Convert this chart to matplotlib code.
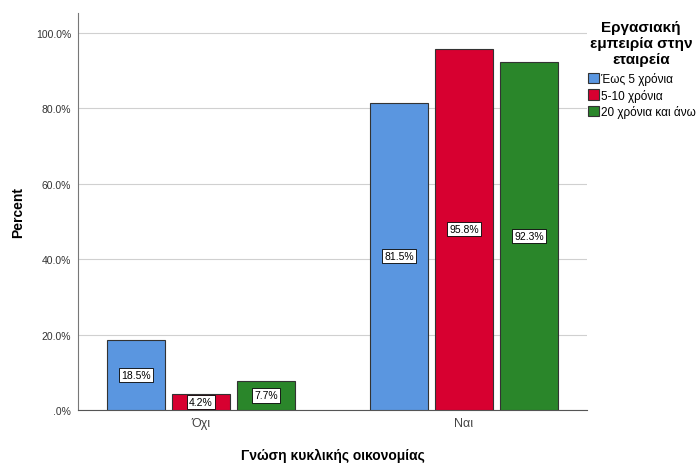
import matplotlib
matplotlib.use("Agg")
import matplotlib.pyplot as plt
import numpy as np

plt.rcParams['font.family'] = ['Liberation Sans', 'DejaVu Sans']

categories = ["Όχι", "Ναι"]
series_names = ["Έως 5 χρόνια", "5-10 χρόνια", "20 χρόνια και άνω"]
values = {
    "Έως 5 χρόνια": [18.5, 81.5],
    "5-10 χρόνια": [4.2, 95.8],
    "20 χρόνια και άνω": [7.7, 92.3],
}
colors = ["#5a96e0", "#d70030", "#2a862a"]
yticks = [0, 20, 40, 60, 80, 100]
ytick_labels = [".0%", "20.0%", "40.0%", "60.0%", "80.0%", "100.0%"]

fig = plt.figure(figsize=(6.99, 4.64), dpi=100)
ax = fig.add_axes([78/699, 53/464, (587-78)/699, (411-14)/464])

x = np.arange(len(categories))
width = 0.2205
step = 0.247
for i, name in enumerate(series_names):
    pos = x + (i - 1) * step
    bars = ax.bar(pos, values[name], width=width, color=colors[i],
                  edgecolor="#333333", linewidth=0.8, zorder=3, label=name)
    for xb, v in zip(pos, values[name]):
        ax.text(xb, v / 2, f"{v:.1f}%", ha="center", va="center", fontsize=7.5,
                color="black", zorder=4,
                bbox=dict(boxstyle="square,pad=0.2", fc="white", ec="black", lw=0.6))

ax.set_xlim(-0.468, 1.468)
ax.set_ylim(0, 105.3)
ax.set_yticks(yticks)
ax.set_yticklabels(ytick_labels, fontsize=7.5, color="#333333")
ax.set_xticks(x)
ax.set_xticklabels(categories, fontsize=9, color="#444444")
ax.tick_params(axis="both", length=0, pad=5)
ax.yaxis.grid(True, color="#d0d0d0", linewidth=0.8, zorder=0)
ax.set_axisbelow(True)
for s in ["top", "right"]:
    ax.spines[s].set_visible(False)
ax.spines["left"].set_color("#777777")
ax.spines["bottom"].set_color("#555555")

ax.set_ylabel("Percent", fontsize=10, fontweight="bold", labelpad=8)
ax.set_xlabel("Γνώση κυκλικής οικονομίας", fontsize=10, fontweight="bold", labelpad=14)

fig.text(641/699, 1 - 21/464, "Εργασιακή\nεμπειρία στην\nεταιρεία", ha="center", va="top",
         fontsize=11, fontweight="bold", linespacing=1.2)
handles, labels = ax.get_legend_handles_labels()
leg = fig.legend(handles, labels, loc="upper left", bbox_to_anchor=(588/699, 1 - 73/464),
                 frameon=False, fontsize=8.5, handlelength=0.9, handleheight=1.0,
                 handletextpad=0.2, labelspacing=0.3, borderaxespad=0, borderpad=0)
for h in leg.legend_handles:
    h.set_edgecolor("#333333")

fig.savefig("out.png", dpi=100)
